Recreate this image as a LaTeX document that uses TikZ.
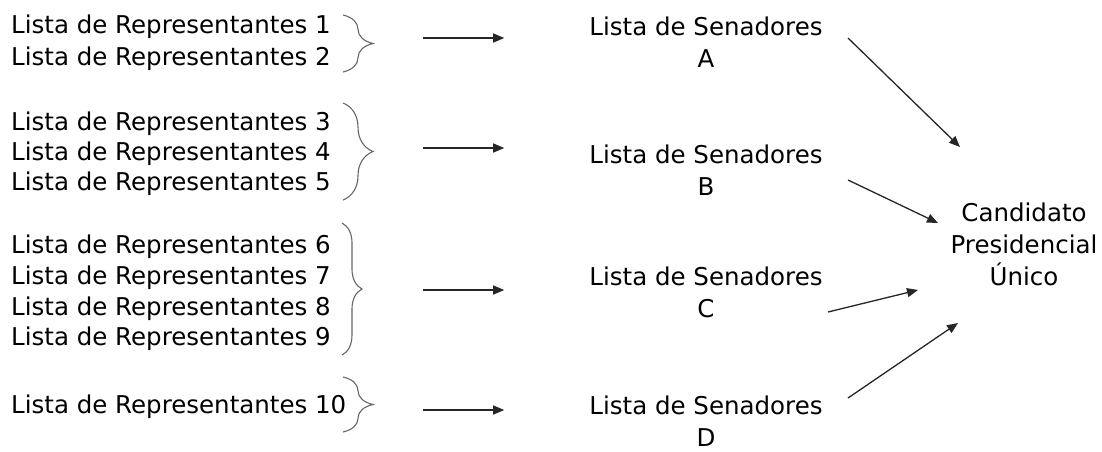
\documentclass[tikz,border=0pt]{standalone}
\usepackage{fontspec}
\setmainfont{DejaVu Sans}
\usetikzlibrary{arrows.meta, decorations.pathreplacing}

\begin{document}
\begin{tikzpicture}[%
        x = 1pt, y = -1pt,
        > = {Triangle[length = 11pt, width = 9pt]},
        font = \fontsize{24.5}{32}\selectfont,
        rep/.style = {anchor = base west, inner sep = 0pt},
        sen/.style = {anchor = base, align = center, inner sep = 0pt},
        grp/.style = {%
            draw = black!60,
            line width = 1.1pt,
            decoration = {brace, amplitude = #1},
            decorate
        },
        grp/.default = 30pt,
        arr/.style = {->, line width = 1.3pt, draw = black!85}
    ]

        \useasboundingbox (0, 0) rectangle (1102, 451);

        % Lists of representatives.
        \foreach\n/\y in {1/33, 2/65, 3/130, 4/160, 5/190,
                          6/253, 7/284, 8/315, 9/345, 10/413}{%
            \node[rep] (rep\n) at (11, \y) {Lista de Representantes \n};
        }

        % Braces grouping the lists.
        \draw[grp] (343, 15)  to (343, 72);
        \draw[grp] (343, 103) to (343, 200);
        \draw[grp = 20pt] (342, 223) to (342, 355);
        \draw[grp] (343, 377) to (343, 432);

        % Lists of senators (base is the last line).
        \node[sen] (senA) at (706, 67)  {Lista de Senadores\\A};
        \node[sen] (senB) at (706, 195) {Lista de Senadores\\B};
        \node[sen] (senC) at (706, 317) {Lista de Senadores\\C};
        \node[sen] (senD) at (706, 446) {Lista de Senadores\\D};

        % Single candidate.
        \node[sen] (cand) at (1024, 285) {Candidato\\Presidencial\\Único};

        % Arrow ends.
        \coordinate (g1) at (423, 38);
        \coordinate (g2) at (423, 148);
        \coordinate (g3) at (423, 290);
        \coordinate (g4) at (423, 410);

        \coordinate (sA) at (848, 38);
        \coordinate (sB) at (848, 180);
        \coordinate (sC) at (828, 312);
        \coordinate (sD) at (848, 398);

        \coordinate (cA) at (960, 147);
        \coordinate (cB) at (938, 223);
        \coordinate (cC) at (918, 290);
        \coordinate (cD) at (958, 323);

        % Arrows to the senators.
        \foreach\g/\s in {1/A, 2/B, 3/C, 4/D}{%
            \draw[arr, shorten >= 85pt] (g\g) to (g\g -| sen\s.west);
        }

        % Arrows to the candidate.
        \foreach\s in {A, B, C, D}{%
            \draw[arr] (s\s) to (c\s);
        }
    \end{tikzpicture}
\end{document}
